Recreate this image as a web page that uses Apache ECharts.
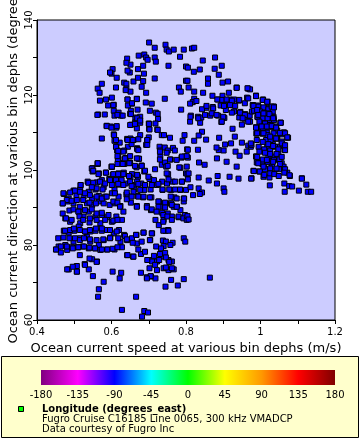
<!DOCTYPE html>
<html><head><meta charset="utf-8">
<script src="https://cdn.jsdelivr.net/npm/echarts@6/dist/echarts.min.js"></script>
<style>html,body{margin:0;padding:0;background:#fff}#c{width:360px;height:440px}</style>
</head><body><div id="c"></div>
<script>
// [speed (m/s), direction (degrees)]
const upperLeftPoints = [
[0.701,134.0],[0.716,132.6],[0.745,133.4],[0.748,132.1],[0.754,131.6],[0.767,132.1],[0.794,132.1],[0.784,130.2],[0.800,127.6],
[0.673,130.5],[0.688,130.8],[0.693,130.0],[0.697,129.4],[0.716,130.0],[0.719,128.9],[0.753,127.8],
[0.642,129.7],[0.651,128.1],[0.640,128.6],[0.649,126.0],[0.643,126.5],[0.685,127.8],[0.671,126.9],[0.687,125.7],[0.603,126.9],[0.600,125.7],[0.596,126.0],[0.614,124.6],[0.716,124.4],
[0.574,123.0],[0.563,121.7],[0.568,120.6],[0.612,122.0],[0.634,123.3],[0.640,123.0],[0.659,123.6],[0.671,124.6],[0.685,123.7],[0.681,122.2],[0.640,121.7],[0.651,120.9],[0.638,121.3],[0.693,120.6],
[0.781,122.0],[0.786,120.9],[0.800,123.8],
[0.569,118.5],[0.585,118.8],[0.601,119.3],[0.591,117.2],[0.606,117.4],[0.643,118.8],[0.668,119.0],[0.655,117.7],[0.644,117.2],[0.692,118.0],[0.708,117.7],[0.743,119.0],
[0.787,116.1],[0.606,115.8],[0.619,115.3],[0.652,115.8],[0.670,116.1],[0.703,115.8],[0.719,115.3],[0.724,115.0],[0.564,114.8],[0.582,114.8],[0.608,114.5],[0.625,114.5],[0.650,115.0],[0.664,114.0],[0.677,114.2],[0.725,113.6],
[0.587,111.8],[0.598,111.6],[0.613,111.3],[0.653,112.1],[0.663,112.6],[0.677,112.6],[0.668,111.1],[0.700,112.4],[0.718,112.4],[0.723,110.8],[0.701,111.0],
[0.606,109.5],[0.574,108.4],[0.608,107.8],[0.622,107.3],[0.642,108.3],[0.651,108.4],[0.659,108.0],[0.677,109.3],[0.700,108.7],[0.696,107.8],[0.735,109.3],[0.741,109.3],[0.757,108.6],[0.796,109.3],[0.791,107.8],
[0.613,106.2],[0.615,105.2],[0.644,106.2],[0.654,106.9],[0.669,105.8],[0.693,106.7],[0.729,106.2],[0.731,105.2],[0.743,106.0],[0.751,105.2],[0.765,105.9],[0.770,105.2],[0.803,105.5],
[0.618,104.0],[0.619,102.9],[0.634,105.2],[0.638,103.2],[0.673,103.0],[0.731,103.6],[0.759,102.8],[0.788,103.3],[0.796,103.6],
[0.549,100.5],[0.563,101.8],[0.601,100.8],[0.622,101.8],[0.634,101.6],[0.649,102.0],[0.667,100.7],[0.681,101.2],[0.735,101.4],[0.744,102.0],[0.747,100.9],[0.785,100.6]
];
const upperArcPoints = [
[0.643,118.8],[0.655,117.8],[0.668,118.9],[0.605,117.3],[0.562,114.7],[0.616,114.7],[0.630,114.5],[0.652,114.9],[0.669,113.8],
[0.587,111.7],[0.600,111.3],[0.614,111.7],[0.650,112.0],[0.663,112.3],[0.677,113.2],[0.701,112.3],[0.702,110.8],[0.724,110.7],
[0.607,109.3],[0.612,108.0],[0.612,106.2],[0.643,108.0],[0.657,108.0],[0.672,108.2],[0.669,105.6],[0.696,108.0],[0.696,106.7],
[0.617,102.7],[0.630,101.8],[0.650,101.9],[0.674,103.0],[0.600,100.9],[0.563,101.6]
];
const upperRightPoints = [
[0.816,132.4],[0.822,132.6],[0.845,129.2],[0.878,130.0],[0.896,127.8],[0.877,127.0],[0.888,125.4],[0.837,126.8],[0.821,126.2],[0.805,127.3],
[0.804,123.8],[0.859,124.4],[0.859,123.0],[0.898,123.3],[0.913,123.6],[0.807,122.0],[0.822,120.9],[0.846,120.6],[0.936,122.0],[0.967,121.7],
[0.822,119.0],[0.818,118.1],[0.828,118.4],[0.871,119.8],[0.886,118.8],[0.898,119.8],[0.915,120.6],[0.929,118.8],[0.917,118.8],[0.902,118.5],[0.942,118.5],
[0.964,119.3],[0.988,119.8],[1.007,118.8],[0.811,117.7],
[0.855,116.6],[0.843,116.2],[0.872,116.8],[0.893,117.2],[0.907,116.0],[0.924,117.3],[0.907,117.4],
[0.980,117.3],[0.993,117.2],[0.984,115.8],[0.998,116.0],[1.003,115.1],[1.021,116.5],[1.035,116.9],[1.016,115.3],
[0.929,115.6],[0.946,115.5],[0.959,114.9],[0.971,114.5],[0.977,115.6],
[0.813,114.5],[0.832,114.2],[0.841,114.0],[0.865,114.5],[0.886,114.5],[0.903,113.9],[0.895,112.8],[0.943,114.0],[0.969,113.0],[0.957,113.7],
[0.811,112.9],[0.838,112.6],
[0.992,114.1],[1.006,113.8],[1.010,112.3],[1.025,112.6],[1.035,114.2],[1.036,111.4],[1.054,112.6],[0.993,111.3],
[0.925,111.0],[0.950,112.1],[0.843,110.2],[0.834,109.2],[0.854,108.1],[0.822,107.8],[0.889,108.6],[0.931,108.9],
[0.989,109.7],[1.005,109.7],[1.017,110.0],[1.024,108.5],[1.040,110.7],[1.056,109.5],[1.064,110.0],[1.074,108.6],[1.045,108.4],[1.033,106.9],[1.049,106.2],[1.061,106.6],
[0.905,106.8],[0.921,107.1],[0.950,107.3],[0.967,106.5],[0.974,106.2],[0.888,105.3],[0.901,105.2],[0.882,106.0],
[0.832,105.4],[0.805,105.4],[1.008,105.4],[1.018,106.2],[0.995,106.2],[1.065,105.4],
[0.933,104.9],[0.944,103.8],[0.963,104.9],[0.988,103.6],
[0.883,103.1],[0.909,102.2],[0.936,100.9],[0.835,102.0],[0.850,101.4],[0.805,103.3],
[0.992,102.5],[1.005,101.6],[1.019,102.2],[1.034,103.6],[1.045,102.8],[1.057,101.8],[1.062,100.9],[1.031,100.9],[1.009,100.9]
];
const rightClusterPoints = [
[0.988,119.8],[1.006,118.7],[1.019,118.2],
[0.979,117.3],[0.994,116.9],[1.008,116.7],[1.021,116.2],[1.036,116.9],
[0.983,115.8],[0.999,115.6],[1.010,115.1],[1.021,115.1],[1.033,115.6],
[0.992,114.2],[1.006,113.8],[1.019,113.8],[1.035,113.8],[0.997,112.9],[1.012,112.4],[1.026,112.0],[1.036,113.3],
[1.054,112.6],[1.042,111.6],[0.988,111.4],[1.006,111.1],[1.021,111.4],[1.045,110.5],[1.062,110.0],[1.072,108.7],
[0.990,109.8],[1.006,109.8],[1.019,109.3],[1.035,109.8],[1.015,108.0],[1.027,108.0],[1.044,108.4],[1.057,107.6],
[0.976,106.7],[1.010,105.5],[1.026,105.2],[1.039,106.2],[1.048,104.6],[1.066,105.3],[1.062,106.7],
[0.988,103.6],[1.006,102.8],[1.021,103.7],[1.036,102.7],[1.051,102.8],[0.990,102.0],[1.019,102.2],
[0.981,99.8],[0.997,99.6],[1.012,100.2],[1.026,100.4],[1.036,99.1],[1.051,100.2],[1.063,100.2],[1.072,99.3],[1.079,98.4],[1.111,97.8],[0.976,97.8],[1.008,98.2],[1.024,98.0],
[0.972,121.5],[0.972,112.9],[0.974,107.1],
[0.981,117.1],[0.991,116.0],[1.006,118.7],[1.018,118.2],[1.030,116.9],[1.036,116.7],[0.994,114.7],[1.008,115.1],[1.024,114.9],[1.034,113.8],[1.054,112.6],
[0.988,111.3],[1.003,111.6],[1.017,111.6],[1.030,111.7],[1.042,111.3],[1.052,109.9],[1.066,109.8],[1.072,108.7],[0.991,109.8],[1.008,109.8],[1.026,108.9],[1.042,108.4],
[1.057,107.1],[1.066,106.6],[0.990,108.0],[1.006,107.5],[1.021,106.9],[1.034,106.4],[1.048,105.5],[0.997,104.9],[1.012,104.6],[1.026,104.3],[1.043,104.3],[1.057,103.5],
[0.991,103.5],[1.017,102.7],[1.034,102.2],[1.052,101.6],[0.994,101.8],[1.008,100.9],[1.026,100.4],[1.043,100.4],[1.066,100.2],
[0.965,121.8],[0.936,121.9],[0.988,119.7],[0.943,118.7],[0.958,117.8],[0.967,119.1],[0.896,118.7],[0.884,118.8],[0.909,118.8],[0.923,118.5],[0.918,117.3],[0.932,117.1],
[0.902,117.1],[0.873,116.4],[0.855,117.1],[0.869,115.1],[0.882,114.7],[0.900,114.2],[0.923,115.3],[0.945,115.3],[0.958,114.7],[0.952,113.8],[0.967,112.9],[0.896,112.9],
[0.851,114.7],[0.833,113.8],[0.812,114.2]
];
const lowerLeftPoints = [
[0.549,99.6],[0.566,99.1],[0.585,99.3],[0.603,98.7],[0.619,99.1],[0.633,99.3],[0.655,98.9],[0.668,98.7],[0.688,99.6],[0.702,97.6],[0.752,98.9],[0.789,96.9],[0.800,99.1],
[0.536,96.9],[0.561,96.7],[0.574,97.3],[0.594,97.6],[0.611,97.3],[0.626,97.8],[0.651,98.0],[0.671,98.2],[0.638,96.4],[0.660,96.0],[0.680,96.4],[0.709,96.3],[0.722,96.0],[0.736,96.9],[0.749,96.4],[0.764,96.9],
[0.517,96.0],[0.498,94.5],[0.516,94.8],[0.539,94.2],[0.557,94.8],[0.579,95.4],[0.608,94.8],[0.619,96.1],[0.640,93.5],[0.660,94.8],[0.688,94.7],[0.705,94.8],[0.670,93.1],[0.685,92.7],[0.707,92.7],[0.737,94.7],[0.760,94.7],[0.785,94.7],[0.794,92.4],[0.769,92.7],[0.758,91.1],[0.740,91.1],
[0.472,93.6],[0.485,92.4],[0.506,93.3],[0.525,92.9],[0.548,92.4],[0.566,93.1],[0.583,92.9],[0.601,93.8],[0.619,92.9],[0.643,93.1],
[0.469,91.1],[0.482,91.6],[0.498,91.1],[0.515,90.2],[0.534,91.1],[0.548,90.7],[0.566,91.6],[0.579,91.1],[0.595,90.7],[0.610,91.1],[0.624,90.4],[0.652,91.3],[0.668,90.4],[0.695,90.4],[0.706,89.3],[0.727,91.6],[0.738,90.2],[0.760,91.1],[0.776,90.2],[0.794,91.6],
[0.476,87.1],[0.489,86.2],[0.512,88.9],[0.525,87.6],[0.539,88.9],[0.557,87.6],[0.574,88.0],[0.588,87.4],[0.615,86.8],[0.601,86.2],[0.628,86.7],[0.570,85.8],[0.516,85.8],[0.541,86.0],[0.613,87.6],
[0.718,86.7],[0.727,85.3],[0.740,86.7],[0.745,83.8],[0.752,84.0],[0.736,88.6],[0.751,88.4],[0.762,87.6],[0.780,87.4],[0.767,90.2],[0.785,89.3],[0.797,88.0],
[0.472,83.8],[0.485,83.3],[0.500,83.8],[0.512,84.9],[0.530,83.6],[0.543,83.6],[0.557,83.8],[0.574,83.8],[0.588,84.0],[0.606,83.1],[0.620,84.0],[0.597,82.0],[0.579,81.3],[0.634,82.7],[0.642,81.3],[0.624,80.9],
[0.667,82.7],[0.686,83.3],[0.709,83.1],[0.704,81.3],[0.668,80.4],[0.655,81.8],
[0.738,81.2],[0.746,80.9],[0.764,80.6],[0.740,79.7],[0.758,80.0],[0.794,81.8],[0.798,80.9],
[0.451,78.8],[0.464,78.0],[0.458,79.6],[0.476,80.0],[0.481,78.7],[0.494,79.4],[0.509,79.4],[0.523,79.6],[0.539,79.1],[0.557,79.1],[0.570,78.7],[0.588,78.8],[0.608,78.8],[0.628,79.4],[0.566,80.0],[0.543,80.9],[0.498,80.9],[0.516,81.8],[0.534,82.2],
[0.642,77.3],[0.658,76.9],[0.679,77.6],[0.700,76.0],[0.709,75.6],[0.722,75.6],[0.733,76.9],[0.753,76.0],[0.762,75.6],[0.722,73.3],[0.740,73.8],[0.753,73.3],[0.767,73.5],[0.794,70.9],
[0.485,73.5],[0.507,74.4],[0.507,72.9],[0.528,74.9],[0.539,73.5],[0.548,76.2],[0.561,75.6],[0.550,71.7],[0.579,70.2],[0.603,72.9],[0.626,72.6],[0.622,71.1],[0.679,72.6],[0.695,71.4],[0.706,71.6],[0.718,71.1],[0.745,68.9],[0.760,70.7],[0.778,69.2],
[0.566,68.2],[0.564,66.2],[0.666,66.2],[0.628,62.7],[0.688,62.4],[0.698,62.0],[0.682,60.9]
];
const leftClusterPoints = [
[0.618,105.1],[0.632,104.9],[0.672,105.3],[0.730,104.9],[0.748,104.6],[0.789,103.6],[0.802,103.7],[0.636,103.1],[0.650,103.7],[0.616,103.7],[0.668,103.1],[0.730,102.8],[0.757,102.8],[0.775,102.7],
[0.547,100.4],[0.563,101.8],[0.601,100.9],[0.616,101.6],[0.630,101.6],[0.648,101.8],[0.663,101.1],[0.681,101.1],[0.690,99.8],[0.751,101.1],[0.782,100.7],[0.802,100.9],[0.717,100.2],
[0.551,99.8],[0.565,98.9],[0.585,99.3],[0.605,98.9],[0.618,98.9],[0.632,98.9],[0.647,98.4],[0.669,98.7],[0.596,97.3],[0.612,97.3],[0.627,97.3],[0.650,96.9],[0.668,96.9],[0.699,98.2],[0.714,97.3],[0.748,99.1],[0.753,97.5],[0.771,96.9],[0.789,96.9],[0.804,98.9],
[0.517,96.0],[0.538,96.6],[0.551,96.6],[0.569,96.9],[0.583,96.4],[0.560,95.1],[0.547,95.4],[0.576,94.8],[0.601,96.0],[0.618,96.3],[0.632,96.0],[0.654,95.7],[0.672,96.3],[0.690,96.0],[0.708,96.0],[0.726,96.3],[0.737,94.8],[0.755,94.8],[0.771,94.8],[0.784,94.8],[0.800,94.7],[0.677,94.7],[0.659,94.2],[0.641,94.0],[0.609,93.8],
[0.471,93.8],[0.489,94.0],[0.502,94.5],[0.515,94.2],[0.529,93.8],[0.542,93.3],[0.560,92.9],[0.574,92.4],[0.587,92.9],[0.480,92.0],[0.493,91.8],[0.507,92.0],[0.524,92.0],[0.541,91.3],[0.558,91.1],[0.605,91.6],[0.616,91.3],[0.623,90.2],[0.641,92.2],[0.654,92.9],[0.672,92.9],[0.686,92.9],[0.703,92.7],[0.726,91.6],[0.744,91.3],[0.759,92.9],[0.775,92.4],[0.795,92.4],[0.762,90.7],[0.775,90.2],[0.726,90.2],[0.744,90.0],
[0.469,91.1],[0.487,89.2],[0.469,88.4],[0.498,89.5],[0.511,88.9],[0.529,89.3],[0.547,89.5],[0.560,88.4],[0.574,88.6],[0.592,88.0],[0.605,86.5],[0.616,86.7],[0.632,88.9],[0.668,90.2],[0.695,90.0],[0.708,89.5],[0.721,88.9],[0.739,88.0],[0.750,87.6],[0.762,86.7],[0.780,87.6],[0.793,87.1],[0.802,86.7],[0.478,87.1],[0.493,86.7],[0.514,87.6],[0.524,86.7],[0.542,87.1],[0.560,86.7],[0.583,86.7],[0.739,86.2],
[0.475,83.8],[0.489,84.0],[0.499,84.4],[0.515,84.0],[0.529,83.6],[0.542,84.0],[0.558,84.4],[0.574,84.4],[0.596,84.0],[0.614,83.6],[0.636,82.4],[0.666,82.7],[0.686,83.3],[0.708,83.1],[0.739,83.8],[0.753,83.8],[0.457,81.8],[0.471,82.0],[0.487,81.8],[0.502,81.8],[0.515,81.3],[0.526,81.8],[0.542,81.5],[0.560,81.3],[0.578,81.5],[0.596,81.8],[0.618,81.8],[0.641,81.5],[0.657,80.6],[0.681,80.9],[0.703,81.3],
[0.451,78.8],[0.464,79.6],[0.480,79.6],[0.496,79.1],[0.511,79.4],[0.526,79.6],[0.541,79.3],[0.556,79.1],[0.574,78.8],[0.589,78.8],[0.603,79.0],[0.616,79.4],[0.643,77.3],[0.659,76.9],[0.672,78.8],[0.690,78.2],[0.720,79.6],[0.733,79.1],[0.744,77.9],[0.746,76.7],
[0.515,77.3],[0.541,76.4],[0.560,75.5],[0.481,73.5],[0.496,74.2],[0.507,72.9],[0.529,74.7],[0.696,76.0],[0.714,77.1],[0.730,77.6],[0.702,73.8],[0.717,74.7],[0.728,76.0],[0.755,75.5],[0.705,71.7],[0.695,71.1],[0.746,74.0],[0.762,73.8]
];
const lowerRightPoints = [
[0.807,99.1],[0.805,97.5],[0.834,98.0],[0.812,95.4],[0.834,95.1],[0.843,94.0],[0.819,93.3],[0.837,93.6],[0.861,97.2],[0.883,96.4],[0.885,98.4],[0.901,95.1],[0.903,94.2],
[0.917,98.2],[0.941,97.7],[0.975,97.7],[0.982,99.7],[0.998,99.6],[1.010,98.7],[1.026,99.1],[1.037,98.9],[1.049,98.4],[1.064,99.3],[1.078,98.6],
[1.025,95.9],[1.064,96.4],[1.077,95.7],[1.085,95.6],[1.111,97.7],[1.123,96.1],[1.103,94.5],[1.127,94.2],[1.136,94.2],[1.065,94.2],
[0.804,87.7],[0.807,86.8],[0.864,71.3]
];

const speedRange = [0.4, 1.2];
const directionRange = [60, 140];
const colorbarLabels = ['-180','-135','-90','-45','0','45','90','135','180'];
const colorbarColors = ['#800080','#ff00ff','#0000ff','#00ffff','#00ff00','#ffff00','#ff9900','#ff0000','#800000'];
const legendTitle = 'Longitude (degrees_east)';
const legendLines = ['Fugro Cruise C16185 Line 0065, 300 kHz VMADCP', 'Data courtesy of Fugro Inc'];
const xName = 'Ocean current speed at various bin dephs (m/s)';
const yName = 'Ocean current direction at various bin dephs (degrees)';

const FONT = 'DejaVu Sans';
const allPoints = [].concat(upperLeftPoints, upperArcPoints, upperRightPoints, rightClusterPoints, lowerLeftPoints, leftClusterPoints, lowerRightPoints);

const chart = echarts.init(document.getElementById('c'), null, {renderer: 'canvas'});

const cbX0 = 41, cbX1 = 335, cbY = 370, cbH = 15;
const graphics = [
  {type:'rect', shape:{x:1.5, y:356.5, width:357, height:81}, style:{fill:'#ffffcc', stroke:'#000', lineWidth:1}, z:-1},
  {type:'rect', shape:{x:cbX0, y:cbY, width:cbX1-cbX0, height:cbH}, style:{fill: new echarts.graphic.LinearGradient(0,0,1,0, colorbarColors.map((c,i)=>({offset:i/(colorbarColors.length-1), color:c})))}},
  {type:'rect', shape:{x:18.5, y:406.5, width:5, height:5}, style:{fill:'#00ff00', stroke:'#000', lineWidth:1}},
  {type:'text', x:42, y:409, style:{text:legendTitle, font:'bold 10px "DejaVu Sans"', fill:'#000', verticalAlign:'middle'}},
  {type:'text', x:14, y:165, rotation:Math.PI/2, style:{text:yName, font:'13px "DejaVu Sans"', fill:'#000', align:'center', verticalAlign:'middle'}},
];
colorbarLabels.forEach((t,i)=>{
  graphics.push({type:'text', x: cbX0 + (cbX1-cbX0)*i/(colorbarLabels.length-1), y:395, style:{text:t, font:'10px "DejaVu Sans"', fill:'#000', align:'center', verticalAlign:'middle'}});
});
legendLines.forEach((t,i)=>{
  graphics.push({type:'text', x:42, y:419 + i*10, style:{text:t, font:'10px "DejaVu Sans"', fill:'#000', verticalAlign:'middle'}});
});

chart.setOption({
  animation:false,
  backgroundColor:'#ffffff',
  textStyle:{fontFamily:FONT},
  grid:{left:37, top:20, width:298, height:300, show:true, backgroundColor:'#ccccff', borderColor:'#000', borderWidth:1},
  xAxis:{
    type:'value', min:speedRange[0], max:speedRange[1], interval:0.1,
    name:xName, nameLocation:'middle', nameGap:22,
    nameTextStyle:{fontFamily:FONT, fontSize:13, color:'#000'},
    axisLine:{show:true, onZero:false, lineStyle:{color:'#000', width:1}},
    axisTick:{show:true, length:4, lineStyle:{color:'#000'}},
    axisLabel:{fontFamily:FONT, fontSize:10, color:'#000', margin:7, showMinLabel:true, showMaxLabel:true,
      formatter:(v)=>{const k=Math.round(v*10); return k%2===0 ? String(k/10) : '';}},
    splitLine:{show:false}
  },
  yAxis:{
    type:'value', min:directionRange[0], max:directionRange[1], interval:10,
    axisLine:{show:true, onZero:false, lineStyle:{color:'#000', width:1}},
    axisTick:{show:true, length:4, lineStyle:{color:'#000'}},
    axisLabel:{rotate:90, fontFamily:FONT, fontSize:10, color:'#000', margin:3,
      formatter:(v)=> (Math.round(v)%20===0 ? String(Math.round(v)) : '')},
    splitLine:{show:false}
  },
  series:[{
    type:'scatter', data:allPoints, symbol:'rect', symbolSize:5,
    itemStyle:{color:'#0000ff', borderColor:'#000', borderWidth:1, opacity:1},
    emphasis:{disabled:true}
  }],
  graphic:graphics
});
</script></body></html>
